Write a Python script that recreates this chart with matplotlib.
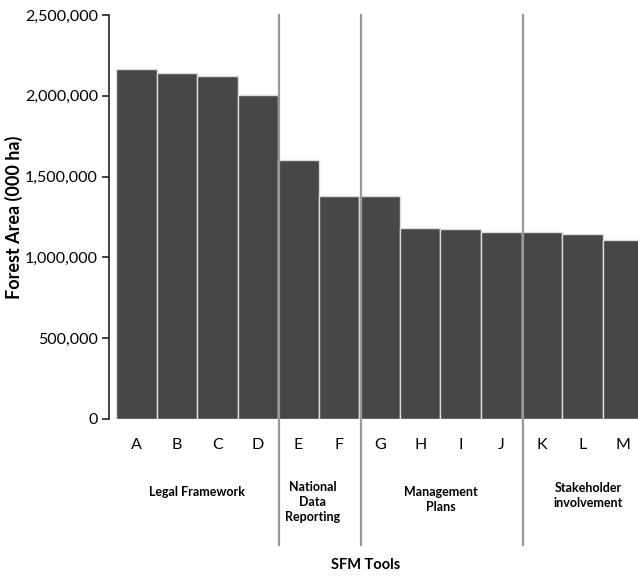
import numpy as np
import matplotlib
matplotlib.use('Agg')
import matplotlib.pyplot as plt
from matplotlib.lines import Line2D
from matplotlib.transforms import blended_transform_factory
from matplotlib.ticker import FuncFormatter

plt.rcParams['font.family'] = ['Lato', 'DejaVu Sans']

# SFM tools and forest area (000 ha)
tools = ['A', 'B', 'C', 'D', 'E', 'F', 'G', 'H', 'I', 'J', 'K', 'L', 'M']
area = [2165000, 2140000, 2120000, 2005000, 1603000, 1380000, 1380000,
        1180000, 1175000, 1160000, 1157000, 1145000, 1107000]

groups = ['Legal Framework', 'National\nData\nReporting', 'Management\nPlans',
          'Stakeholder\ninvolvement']
group_pos = [1.5, 4.35, 7.5, 11.15]
group_y = [-0.181, -0.205, -0.200, -0.190]
separators = [3.5, 5.5, 9.5]

fig = plt.figure(figsize=(6.38, 5.77), dpi=100)
ax = fig.add_axes([109 / 638, 158 / 577, 529 / 638, 404 / 577])

x = np.arange(len(tools))
ax.bar(x, area, width=1.0, color='#474747', edgecolor='#dddddd', linewidth=1.0)

ax.set_xlim(-0.673, 12.37)
ax.set_ylim(0, 2500000)
ax.set_yticks(np.arange(0, 2500001, 500000))
ax.yaxis.set_major_formatter(FuncFormatter(lambda v, p: '{:,.0f}'.format(v)))
ax.set_xticks(x)
ax.set_xticklabels(tools)

for s in ['top', 'right', 'bottom']:
    ax.spines[s].set_visible(False)
ax.spines['left'].set_color('#222222')
ax.spines['left'].set_linewidth(1.2)
ax.tick_params(axis='y', length=5, width=1.2, color='#222222', labelsize=11.5, pad=3)
ax.tick_params(axis='x', length=0, labelsize=11.5, pad=14)

# group separators extend below the axis
trans = blended_transform_factory(ax.transData, ax.transAxes)
for sx in separators:
    fig.add_artist(Line2D([sx + 0.03, sx + 0.03], [1.0, -0.312], transform=trans,
                          color='#999999', linewidth=1.6, zorder=5))

for g, gx, gy in zip(groups, group_pos, group_y):
    ax.text(gx, gy, g, transform=ax.get_xaxis_transform(), ha='center',
            va='center', fontsize=9, fontweight='bold', linespacing=1.3)

ax.set_ylabel('Forest Area (000 ha)', fontsize=13, fontweight='bold')
ax.yaxis.set_label_coords(-0.163, 0.5)
fig.text(366 / 638, 1 - 565 / 577, 'SFM Tools', ha='center', va='center',
         fontsize=10.5, fontweight='bold')

plt.savefig('out.png', dpi=100)
